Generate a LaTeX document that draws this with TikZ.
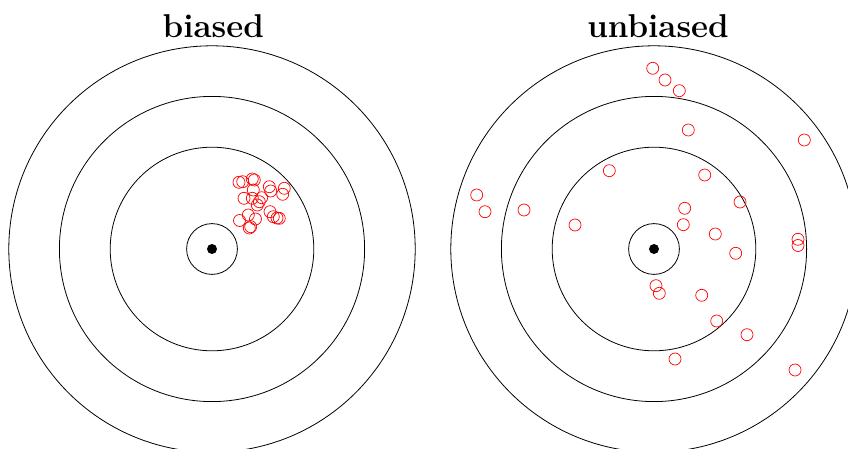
\documentclass[tikz,border=0pt]{standalone}
\begin{document}
\begin{tikzpicture}[x=1pt,y=-1pt,
  ring/.style={draw=black,line width=0.8pt},
  hit/.style={draw=red,line width=0.7pt},
  title/.style={anchor=base,font=\fontsize{33}{33}\selectfont\bfseries}]
\useasboundingbox (0,0) rectangle (848,449);
\begin{scope}
\clip (0,0) rectangle (848,449);
\foreach \cx in {212,654}{
  \foreach \r in {25.4,101.8,152.6,203.2} \draw[ring] (\cx,249) circle (\r pt);
  \fill (\cx,249) circle (5pt);
}
\end{scope}
\node[title] (tl) at (213.3,37.7) {biased};
\node[title] (tr) at (658,37.7) {unbiased};
% biased hits
\foreach \p in {(239,182.3),(242.7,181.7),(252.3,179),(254.3,180),(269.3,186.7),(270.7,191),
  (284.3,188.3),(282.7,194.3),(253.3,190),(244,198.3),(252.3,198.3),(261.7,197.7),
  (259.3,201.7),(257.3,205),(239.5,220.5),(248.3,215),(255.5,219),(250.7,226.7),(249.3,228),
  (270,211.7),(273.3,216.7),(279.3,218.3),(277,218)}
  \draw[hit] \p circle (6pt);
% unbiased hits
\foreach \p in {(652.7,68.3),(665,80),(679.3,90.7),(688.3,130),(804.3,140),(476.7,195),
  (485,211.7),(524,210),(609.3,170.7),(575,225),(704.7,175),(740,202),(684.7,208.3),
  (683.3,224.7),(715.3,234),(798,239.3),(798,245.5),(735.7,253.3),(656,285.7),
  (659.3,293.3),(701.7,295.3),(716.7,321),(747,334.7),(675,359),(795,370)}
  \draw[hit] \p circle (6pt);
\end{tikzpicture}
\end{document}
